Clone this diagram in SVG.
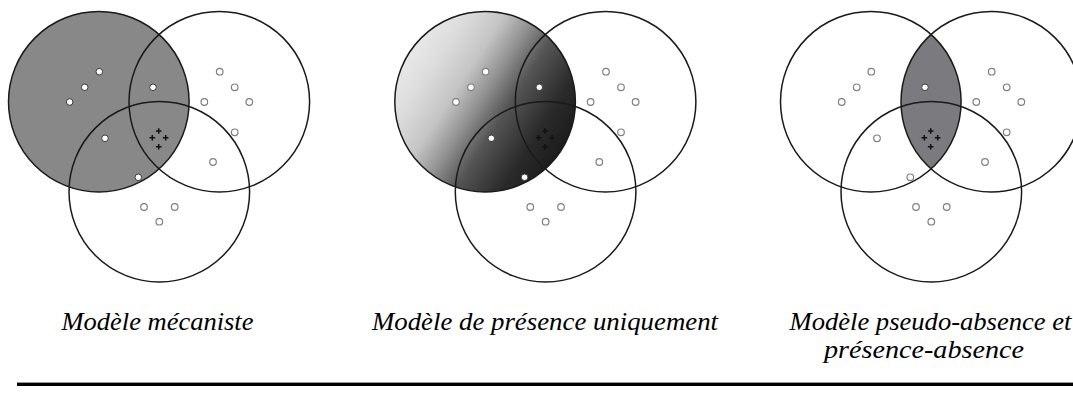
<svg xmlns="http://www.w3.org/2000/svg" xmlns:xlink="http://www.w3.org/1999/xlink" width="1073" height="394" viewBox="0 0 1073 394">
<style>
.ring{fill:none;stroke:#1a1a1a;stroke-width:1.5}
.dot{fill:#fff;stroke:#808080;stroke-width:1.2}
.dots{fill:#fff;stroke:#3a3a3a;stroke-width:1}
.cross{fill:none;stroke:#111;stroke-width:1.5}
.lbl{font-family:"Liberation Serif","Times New Roman",serif;font-style:italic;font-size:25.5px;fill:#000}
</style>
<defs>
<linearGradient id="grad" gradientUnits="userSpaceOnUse" x1="23.4" y1="53.1" x2="174.6" y2="150.3">
<stop offset="0" stop-color="#e8e8e8"/>
<stop offset="0.15" stop-color="#dcdcdc"/>
<stop offset="0.33" stop-color="#c4c4c4"/>
<stop offset="0.47" stop-color="#929292"/>
<stop offset="0.62" stop-color="#555"/>
<stop offset="0.84" stop-color="#2a2a2a"/>
<stop offset="1" stop-color="#1c1c1c"/>
</linearGradient>
<clipPath id="clipA" clipPathUnits="userSpaceOnUse"><circle cx="98.8" cy="101.7" r="90.3"/></clipPath>
<path id="crosses" class="cross" d="M155.9 131h5.6M158.7 128.2v5.6M149.5 137.7h5.6M152.3 134.9v5.6M162.9 137.7h5.6M165.7 134.9v5.6M155.9 146.7h5.6M158.7 143.9v5.6"/>
<g id="rings">
<circle class="ring" cx="98.8" cy="101.7" r="90.3"/>
<circle class="ring" cx="219.3" cy="101.7" r="90.3"/>
<circle class="ring" cx="159.3" cy="191.7" r="90.3"/>
</g>
<g id="outerdots">
<circle class="dot" cx="219.7" cy="71.7" r="3.3"/>
<circle class="dot" cx="234.7" cy="87.3" r="3.3"/>
<circle class="dot" cx="204.3" cy="102" r="3.3"/>
<circle class="dot" cx="249.3" cy="102" r="3.3"/>
<circle class="dot" cx="234.7" cy="132.3" r="3.3"/>
<circle class="dot" cx="213" cy="162" r="3.3"/>
<circle class="dot" cx="144" cy="207" r="3.3"/>
<circle class="dot" cx="174.7" cy="207" r="3.3"/>
<circle class="dot" cx="159.3" cy="221.7" r="3.3"/>
</g>
</defs>

<g id="panel-mecaniste" transform="translate(0,0)">
<circle cx="98.8" cy="101.7" r="90.3" fill="#888888"/>
<use xlink:href="#rings"/>
<circle class="dots" cx="99.3" cy="71.7" r="3.3"/>
<circle class="dots" cx="84.7" cy="87.3" r="3.3"/>
<circle class="dots" cx="69.7" cy="102" r="3.3"/>
<circle class="dots" cx="153" cy="87.3" r="3.3"/>
<circle class="dots" cx="105" cy="138.3" r="3.3"/>
<circle class="dots" cx="138.3" cy="177.3" r="3.3"/>
<use xlink:href="#outerdots"/>
<use xlink:href="#crosses"/>
</g>

<g id="panel-presence" transform="translate(386.3,0)">
<circle cx="98.8" cy="101.7" r="90.3" fill="url(#grad)"/>
<use xlink:href="#rings"/>
<circle class="dot" cx="99.3" cy="71.7" r="3.3"/>
<circle class="dot" cx="84.7" cy="87.3" r="3.3"/>
<circle class="dot" cx="69.7" cy="102" r="3.3"/>
<circle class="dots" cx="153" cy="87.3" r="3.3"/>
<circle class="dots" cx="105" cy="138.3" r="3.3"/>
<circle class="dots" cx="138.3" cy="177.3" r="3.3"/>
<use xlink:href="#outerdots"/>
<use xlink:href="#crosses"/>
</g>

<g id="panel-pseudo-absence" transform="translate(772,0)">
<circle cx="219.3" cy="101.7" r="90.3" fill="#7b7b7f" clip-path="url(#clipA)"/>
<use xlink:href="#rings"/>
<circle class="dot" cx="99.3" cy="71.7" r="3.3"/>
<circle class="dot" cx="84.7" cy="87.3" r="3.3"/>
<circle class="dot" cx="69.7" cy="102" r="3.3"/>
<circle class="dots" cx="153" cy="87.3" r="3.3"/>
<circle class="dot" cx="105" cy="138.3" r="3.3"/>
<circle class="dot" cx="138.3" cy="177.3" r="3.3"/>
<use xlink:href="#outerdots"/>
<use xlink:href="#crosses"/>
</g>

<g id="labels">
<text class="lbl" x="61.5" y="330" textLength="192" lengthAdjust="spacingAndGlyphs">Modèle mécaniste</text>
<text class="lbl" x="372" y="330" textLength="346" lengthAdjust="spacingAndGlyphs">Modèle de présence uniquement</text>
<text class="lbl" x="789.5" y="329.5" textLength="282" lengthAdjust="spacingAndGlyphs">Modèle pseudo-absence et</text>
<text class="lbl" x="824" y="358" textLength="200" lengthAdjust="spacingAndGlyphs">présence-absence</text>
</g>
<rect id="rule" x="17" y="382.6" width="1056" height="3.4" fill="#000"/>
</svg>
